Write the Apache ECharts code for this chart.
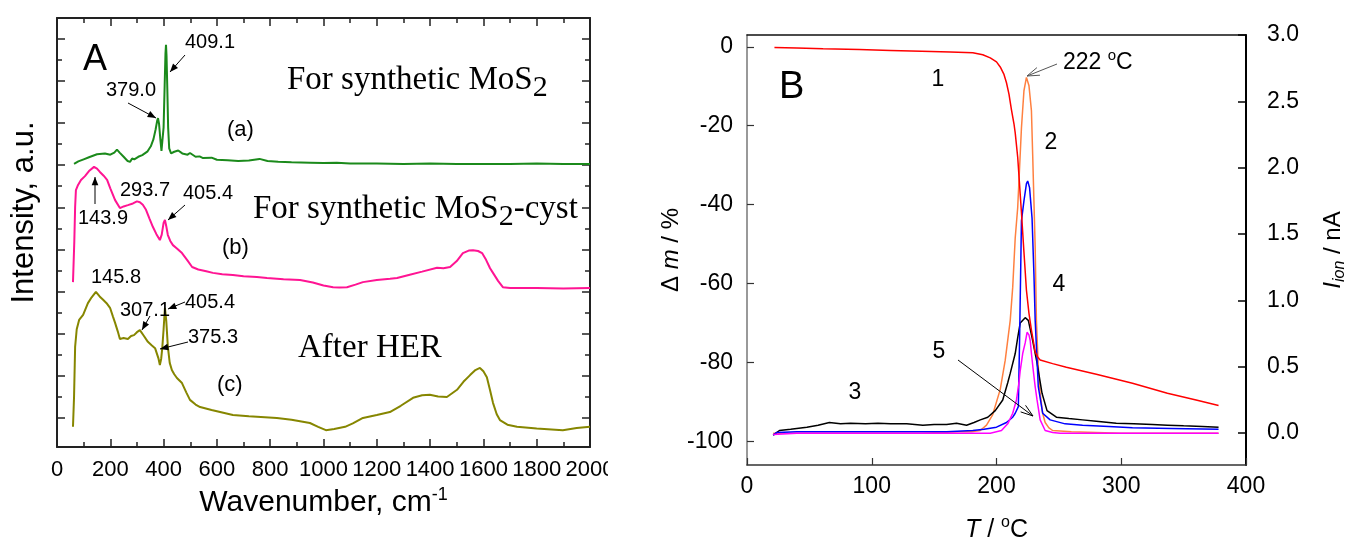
<!DOCTYPE html>
<html>
<head>
<meta charset="utf-8">
<title>Raman spectra and TG-MS of MoS2</title>
<script src="https://cdn.jsdelivr.net/npm/echarts@6/dist/echarts.min.js"></script>
<style>
  html, body { margin: 0; padding: 0; background: #fff; }
  #main { width: 1345px; height: 545px; }
</style>
</head>
<body>
<div id="main"></div>
<script>
const SANS = '"Liberation Sans", Arial, Helvetica, sans-serif';
const SERIF = '"Liberation Serif", "Times New Roman", serif';

// ---- panel A: Raman spectra, [wavenumber cm-1, intensity a.u. (stacked)]
const ramanA = [[64,70.3],[80,70.9],[100,71.4],[120,71.9],[150,72.6],[180,72.8],[200,72.5],[215,73.0],[225,73.7],[235,73.0],[250,72.0],[265,71.0],[274,70.8],[282,71.6],[290,71.4],[305,72.0],[320,72.4],[340,73.3],[352,74.5],[362,76.2],[370,78.5],[376,80.6],[379,81.2],[383,79.8],[388,76.0],[392,73.4],[396,73.8],[400,79.0],[404,89.0],[407,96.5],[409,98.6],[411,96.0],[414,88.0],[417,79.0],[421,74.0],[428,72.8],[440,73.2],[455,73.5],[470,72.8],[490,72.5],[499,72.9],[520,72.0],[535,72.1],[548,71.7],[580,71.8],[600,71.3],[640,71.2],[680,71.0],[720,71.1],[760,71.5],[790,71.0],[830,70.8],[880,70.7],[950,70.6],[1000,70.5],[1050,70.6],[1100,70.4],[1200,70.4],[1300,70.3],[1400,70.4],[1500,70.3],[1600,70.3],[1700,70.3],[1800,70.4],[1900,70.3],[2000,70.3]];
const ramanB = [[60,42.2],[65,52],[68,60],[71,64.1],[79,65.3],[90,66.5],[105,67.4],[120,68.6],[139,69.6],[150,69.2],[161,68.4],[175,67.5],[188,66.5],[200,64.5],[218,61.7],[236,59.8],[250,60.2],[266,60.5],[285,60.9],[300,61.4],[311,61.2],[322,60.6],[334,59.4],[347,57.3],[360,55.3],[373,53.6],[386,52.2],[393,53.5],[400,56.3],[405,57.0],[410,55.5],[416,53.4],[425,52.0],[435,51.0],[450,50.2],[469,49.1],[490,47.3],[507,45.8],[530,45.2],[560,44.8],[585,44.4],[620,44.1],[660,43.9],[700,43.6],[750,43.4],[788,43.2],[850,42.9],[912,42.7],[960,42.1],[1000,41.4],[1036,41.0],[1060,40.9],[1088,41.0],[1120,41.6],[1148,42.2],[1200,42.7],[1250,43.0],[1276,43.2],[1320,43.9],[1370,44.7],[1426,45.6],[1450,45.5],[1475,45.8],[1500,47.2],[1523,49.1],[1545,49.7],[1561,49.8],[1580,49.6],[1595,49.1],[1610,47.5],[1625,45.5],[1636,44.4],[1655,42.5],[1673,41.0],[1700,40.8],[1726,40.8],[1800,40.8],[1900,40.7],[2000,40.8]];
const ramanC = [[60,7.8],[64,15],[68,26.8],[74,31],[83,33.2],[98,34.4],[116,37.2],[130,38.6],[146,39.9],[160,38.8],[173,38.0],[186,37.2],[199,36.1],[210,34.0],[218,32.5],[228,30.5],[236,28.7],[250,28.9],[266,28.7],[278,29.4],[289,29.6],[300,30.3],[311,30.8],[325,29.5],[341,28.0],[355,27.2],[368,26.5],[375,26.8],[381,24.0],[386,22.5],[391,24.0],[395,26.5],[400,31.0],[405,36.1],[410,33.0],[416,26.8],[423,23.0],[431,21.3],[440,20.3],[450,19.4],[469,18.2],[485,16.0],[499,14.2],[520,13.1],[537,12.5],[580,11.8],[620,11.2],[660,10.6],[720,10.3],[780,10.1],[825,9.9],[880,9.5],[949,8.7],[980,7.8],[1009,7.0],[1040,7.3],[1081,7.8],[1110,8.6],[1148,9.9],[1200,10.6],[1249,11.3],[1290,12.8],[1336,14.7],[1370,15.3],[1399,15.4],[1430,15.0],[1463,14.9],[1501,16.6],[1525,18.5],[1550,20.1],[1570,21.3],[1587,21.8],[1600,21.0],[1613,19.6],[1625,16.5],[1636,13.5],[1650,10.8],[1662,9.4],[1690,8.3],[1726,7.8],[1800,7.4],[1898,7.0],[1950,7.5],[2000,7.8]];
const xLabelsA = [0,200,400,600,800,1000,1200,1400,1600,1800,2000];
const yMajorA = [10,20,30,40,50,60,70,80,90,100];
const yMinorA = [15,25,35,45,55,65,75,85,95];

// ---- panel B: TG (mass change %) and ion currents (nA) vs T (degC)
const massLoss = [[22,-0.2],[40,-0.3],[61,-0.5],[90,-0.7],[115,-0.9],[140,-1.1],[163,-1.3],[181,-1.5],[189,-2.0],[195,-2.8],[200,-3.8],[203,-5.1],[206,-7.0],[208,-9.1],[210,-12.0],[212,-16.0],[214,-19.5],[215,-21.8],[217,-28],[220,-42],[222,-52],[224,-61.7],[226,-67.5],[228,-71.8],[230,-75.5],[231,-77.4],[233,-78.6],[235,-79.4],[245,-80.3],[256,-81.2],[280,-83.0],[309,-85.3],[337,-87.8],[360,-89.5],[378,-90.9]];
const ion2 = [[21,0.0],[60,0.0],[100,0.0],[140,0.0],[170,0.01],[180,0.01],[187,0.02],[192,0.06],[197,0.14],[203,0.33],[207,0.55],[211,0.85],[213,1.1],[215,1.47],[217,1.7],[220,2.3],[222,2.58],[224,2.68],[226,2.62],[228,2.43],[229,2.1],[230,1.75],[231,1.4],[232,0.85],[233.5,0.5],[235,0.3],[237,0.15],[239,0.08],[242,0.04],[245,0.02],[260,0.01],[300,0.0],[340,0.0],[378,0.0]];
const ion3 = [[21,-0.015],[26,0.02],[35,0.03],[48,0.045],[57,0.06],[66,0.08],[75,0.07],[83,0.075],[95,0.07],[105,0.075],[115,0.07],[128,0.07],[141,0.06],[150,0.065],[160,0.065],[168,0.075],[176,0.06],[182,0.08],[187,0.1],[193,0.12],[199,0.17],[205,0.25],[209,0.38],[211,0.45],[215,0.6],[217,0.72],[219,0.83],[223,0.87],[225.5,0.85],[228.5,0.72],[232.5,0.53],[236.5,0.3],[240.5,0.17],[248,0.12],[258,0.11],[269,0.1],[280,0.09],[296,0.075],[310,0.07],[325,0.065],[337,0.06],[350,0.055],[365,0.05],[378,0.045]];
const ion4 = [[21,-0.015],[24,0.005],[40,0.01],[80,0.01],[120,0.01],[160,0.01],[181,0.02],[190,0.03],[200,0.045],[208,0.08],[213,0.12],[215,0.15],[217.5,0.2],[218.5,0.7],[220,1.6],[222,1.75],[224,1.88],[225,1.9],[226.5,1.85],[228.5,1.62],[230,1.2],[231,0.85],[233.5,0.35],[237,0.15],[243,0.1],[255,0.07],[269,0.06],[290,0.05],[309,0.04],[340,0.035],[378,0.03]];
const ion5 = [[21,-0.01],[40,0.0],[100,0.0],[150,0.0],[195,0.0],[204,0.02],[209,0.07],[213,0.15],[216,0.25],[218,0.38],[219,0.47],[221,0.6],[223,0.68],[224.5,0.76],[226,0.74],[227,0.7],[228,0.6],[229.5,0.47],[231,0.35],[232.5,0.25],[235,0.1],[239,0.02],[245,0.005],[251,0.0],[300,0.0],[378,0.0]];
const massTicks = [-100,-80,-60,-40,-20,0];
const ionTicks = [0,0.5,1,1.5,2,2.5,3];

const chart = echarts.init(document.getElementById('main'));

function line(data, color, xi, yi, w) {
  return {
    type: 'line', data: data, xAxisIndex: xi, yAxisIndex: yi,
    showSymbol: false, symbol: 'none', silent: true,
    lineStyle: { color: color, width: w }, itemStyle: { color: color }
  };
}

function arrow(x1, y1, x2, y2, color, open) {
  const a = Math.atan2(y2 - y1, x2 - x1);
  const L = open ? 13 : 9, W = open ? 0.32 : 0.38;
  const p1 = [x2 - L * Math.cos(a - W), y2 - L * Math.sin(a - W)];
  const p2 = [x2 - L * Math.cos(a + W), y2 - L * Math.sin(a + W)];
  const out = [{ type: 'line', z: 50, shape: { x1: x1, y1: y1, x2: x2, y2: y2 }, style: { stroke: color, lineWidth: 1 } }];
  if (open) {
    out.push({ type: 'polyline', z: 50, shape: { points: [p1, [x2, y2], p2] }, style: { stroke: color, lineWidth: 1, fill: null } });
  } else {
    out.push({ type: 'polygon', z: 50, shape: { points: [p1, [x2, y2], p2] }, style: { fill: color } });
  }
  return out;
}

function txt(text, x, y, size, extra) {
  const style = Object.assign({
    text: text, fontSize: size, fontFamily: SANS, fill: '#000',
    align: 'left', verticalAlign: 'middle'
  }, extra || {});
  return { type: 'text', x: x, y: y, z: 60, style: style };
}

const axisDark = { color: '#222', width: 2 };
const tickDark = { color: '#222', width: 1.5 };
const plainNum = function (v) { return String(v); };

function yTicksA(pos, vals, len, showLine) {
  return {
    gridIndex: 0, type: 'value', position: pos, min: 3, max: 105,
    axisLine: { show: showLine, onZero: false, lineStyle: axisDark },
    axisTick: { show: true, inside: true, length: len, customValues: vals, lineStyle: tickDark },
    axisLabel: { show: false }, splitLine: { show: false }
  };
}

const yNameA = yTicksA('left', yMajorA, 8, true);
yNameA.name = 'Intensity, a.u.';
yNameA.nameLocation = 'middle';
yNameA.nameGap = 17;
yNameA.nameTextStyle = { fontSize: 31, fontFamily: SANS, color: '#000', padding: [0, 0, 0, 40] };

const serifSub = {
  fontFamily: SERIF, lineHeight: 46,
  rich: { s: { fontSize: 30, lineHeight: 30, verticalAlign: 'bottom', fontFamily: SERIF, fill: '#000' } }
};

const option = {
  animation: false,
  backgroundColor: '#fff',
  grid: [
    { left: 57, top: 18, width: 533, height: 429, outerBoundsMode: 'none' },
    { left: 747, top: 35, width: 499, height: 430, outerBoundsMode: 'none' }
  ],
  xAxis: [
    {
      gridIndex: 0, type: 'value', position: 'bottom', min: 0, max: 2000, interval: 200,
      axisLine: { onZero: false, lineStyle: axisDark },
      axisTick: { inside: true, length: 8, lineStyle: tickDark },
      minorTick: { show: true, splitNumber: 2, length: 5, lineStyle: tickDark },
      axisLabel: {
        customValues: xLabelsA, fontSize: 22, fontFamily: SANS, color: '#000', margin: 12,
        showMinLabel: true, showMaxLabel: true, hideOverlap: false, formatter: plainNum
      },
      splitLine: { show: false }, minorSplitLine: { show: false },
      name: 'Wavenumber, cm{sup|-1}', nameLocation: 'middle', nameGap: 36,
      nameTextStyle: {
        fontSize: 30, fontFamily: SANS, color: '#000', lineHeight: 34,
        rich: { sup: { fontSize: 18, lineHeight: 18, verticalAlign: 'top', fontFamily: SANS, color: '#000' } }
      }
    },
    {
      gridIndex: 0, type: 'value', position: 'top', min: 0, max: 2000, interval: 200,
      axisLine: { onZero: false, lineStyle: axisDark },
      axisTick: { inside: true, length: 8, lineStyle: tickDark },
      minorTick: { show: true, splitNumber: 2, length: 5, lineStyle: tickDark },
      axisLabel: { show: false }, splitLine: { show: false }
    },
    {
      gridIndex: 1, type: 'value', position: 'bottom', min: 0, max: 400, interval: 100,
      axisLine: { onZero: false, lineStyle: { color: '#333', width: 1.5 } },
      axisTick: { inside: true, length: 7, lineStyle: { color: '#333', width: 1.2 } },
      axisLabel: {
        fontSize: 23, fontFamily: SANS, color: '#000', margin: 10,
        showMinLabel: true, showMaxLabel: true, hideOverlap: false, formatter: plainNum
      },
      splitLine: { show: false },
      name: '{i|T} / {sup|o}C', nameLocation: 'middle', nameGap: 50,
      nameTextStyle: {
        fontSize: 25, fontFamily: SANS, color: '#000', lineHeight: 30,
        rich: {
          i: { fontSize: 25, fontStyle: 'italic', fontFamily: SANS, color: '#000' },
          sup: { fontSize: 16, lineHeight: 16, verticalAlign: 'top', fontFamily: SANS, color: '#000' }
        }
      }
    },
    {
      gridIndex: 1, type: 'value', position: 'top', min: 0, max: 400,
      axisLine: { onZero: false, lineStyle: { color: '#111', width: 1.5 } },
      axisTick: { show: false }, axisLabel: { show: false }, splitLine: { show: false }
    }
  ],
  yAxis: [
    yNameA,
    yTicksA('left', yMinorA, 5, false),
    yTicksA('right', yMajorA, 8, true),
    yTicksA('right', yMinorA, 5, false),
    {
      gridIndex: 1, type: 'value', position: 'left', min: -106, max: 3,
      axisLine: { onZero: false, lineStyle: { color: '#777', width: 1.5 } },
      axisTick: { inside: true, length: 7, customValues: massTicks, lineStyle: { color: '#333', width: 1.2 } },
      axisLabel: { customValues: massTicks, fontSize: 23, fontFamily: SANS, color: '#000', margin: 14 },
      splitLine: { show: false },
      name: 'Δ {i|m} / %', nameLocation: 'middle', nameGap: 58,
      nameTextStyle: {
        fontSize: 24, fontFamily: SANS, color: '#000',
        rich: { i: { fontSize: 24, fontStyle: 'italic', fontFamily: SANS, color: '#000' } }
      }
    },
    {
      gridIndex: 1, type: 'value', position: 'right', min: -0.24, max: 3.0,
      axisLine: { onZero: false, lineStyle: { color: '#000', width: 2 } },
      axisTick: { inside: true, length: 8, customValues: ionTicks, lineStyle: { color: '#000', width: 1.5 } },
      axisLabel: {
        customValues: ionTicks, fontSize: 23, fontFamily: SANS, color: '#000', margin: 21,
        formatter: function (v) { return Number(v).toFixed(1); }
      },
      splitLine: { show: false },
      name: '{i|I}{sub|ion} / nA', nameLocation: 'middle', nameGap: 72,
      nameTextStyle: {
        fontSize: 24, fontFamily: SANS, color: '#000', lineHeight: 30,
        rich: {
          i: { fontSize: 24, fontStyle: 'italic', fontFamily: SANS, color: '#000' },
          sub: { fontSize: 16, lineHeight: 16, fontStyle: 'italic', verticalAlign: 'bottom', fontFamily: SANS, color: '#000' }
        }
      }
    }
  ],
  series: [
    line(ramanA, '#1b8a1b', 0, 0, 2),
    line(ramanB, '#ff1493', 0, 0, 2),
    line(ramanC, '#868600', 0, 0, 2),
    line(ion2, '#ff8040', 2, 5, 1.5),
    line(ion3, '#000000', 2, 5, 1.5),
    line(ion4, '#0000ff', 2, 5, 1.5),
    line(ion5, '#ff00ff', 2, 5, 1.5),
    line(massLoss, '#ff0000', 2, 4, 1.5)
  ],
  graphic: [].concat(
    // panel A labels
    [
      txt('A', 83, 60, 36),
      txt('409.1', 185, 42, 20),
      txt('379.0', 106, 90, 20),
      txt('(a)', 227, 130, 22),
      txt('For synthetic MoS{s|2}', 287, 80, 33, serifSub),
      txt('293.7', 120, 190, 20),
      txt('143.9', 78, 218, 20),
      txt('405.4', 183, 193, 20),
      txt('For synthetic MoS{s|2}-cyst', 253, 209, 33, serifSub),
      txt('(b)', 222, 248, 22),
      txt('145.8', 91, 277, 20),
      txt('307.1', 120, 310, 20),
      txt('405.4', 185, 302, 20),
      txt('375.3', 188, 337, 20),
      txt('After HER', 298, 348, 33, { fontFamily: SERIF }),
      txt('(c)', 217, 385, 22),
      // source image is cut at the right of panel A
      { type: 'rect', z: 100, shape: { x: 608, y: 452, width: 30, height: 36 }, style: { fill: '#fff' } }
    ],
    arrow(185, 55, 170, 72, '#000', false),
    arrow(128, 103, 156, 118, '#000', false),
    arrow(95, 204, 95, 177, '#000', false),
    arrow(185, 205, 168, 220, '#000', false),
    arrow(150, 316, 142, 330, '#000', false),
    arrow(185, 302, 168, 309, '#000', false),
    arrow(188, 342, 160, 349, '#000', false),
    // panel B labels
    [
      txt('B', 779, 88, 38),
      txt('1', 938, 80, 23, { align: 'center' }),
      txt('222 {o|o}C', 1063, 63, 23, {
        lineHeight: 30,
        rich: { o: { fontSize: 15, lineHeight: 15, verticalAlign: 'top', fontFamily: SANS, fill: '#000' } }
      }),
      txt('2', 1051, 143, 23, { align: 'center' }),
      txt('3', 855, 393, 23, { align: 'center' }),
      txt('4', 1059, 285, 23, { align: 'center' }),
      txt('5', 939, 352, 23, { align: 'center' })
    ],
    arrow(1057, 64, 1027, 76, '#555', true),
    arrow(958, 360, 1033, 416, '#000', true)
  )
};

chart.setOption(option);
</script>
</body>
</html>
